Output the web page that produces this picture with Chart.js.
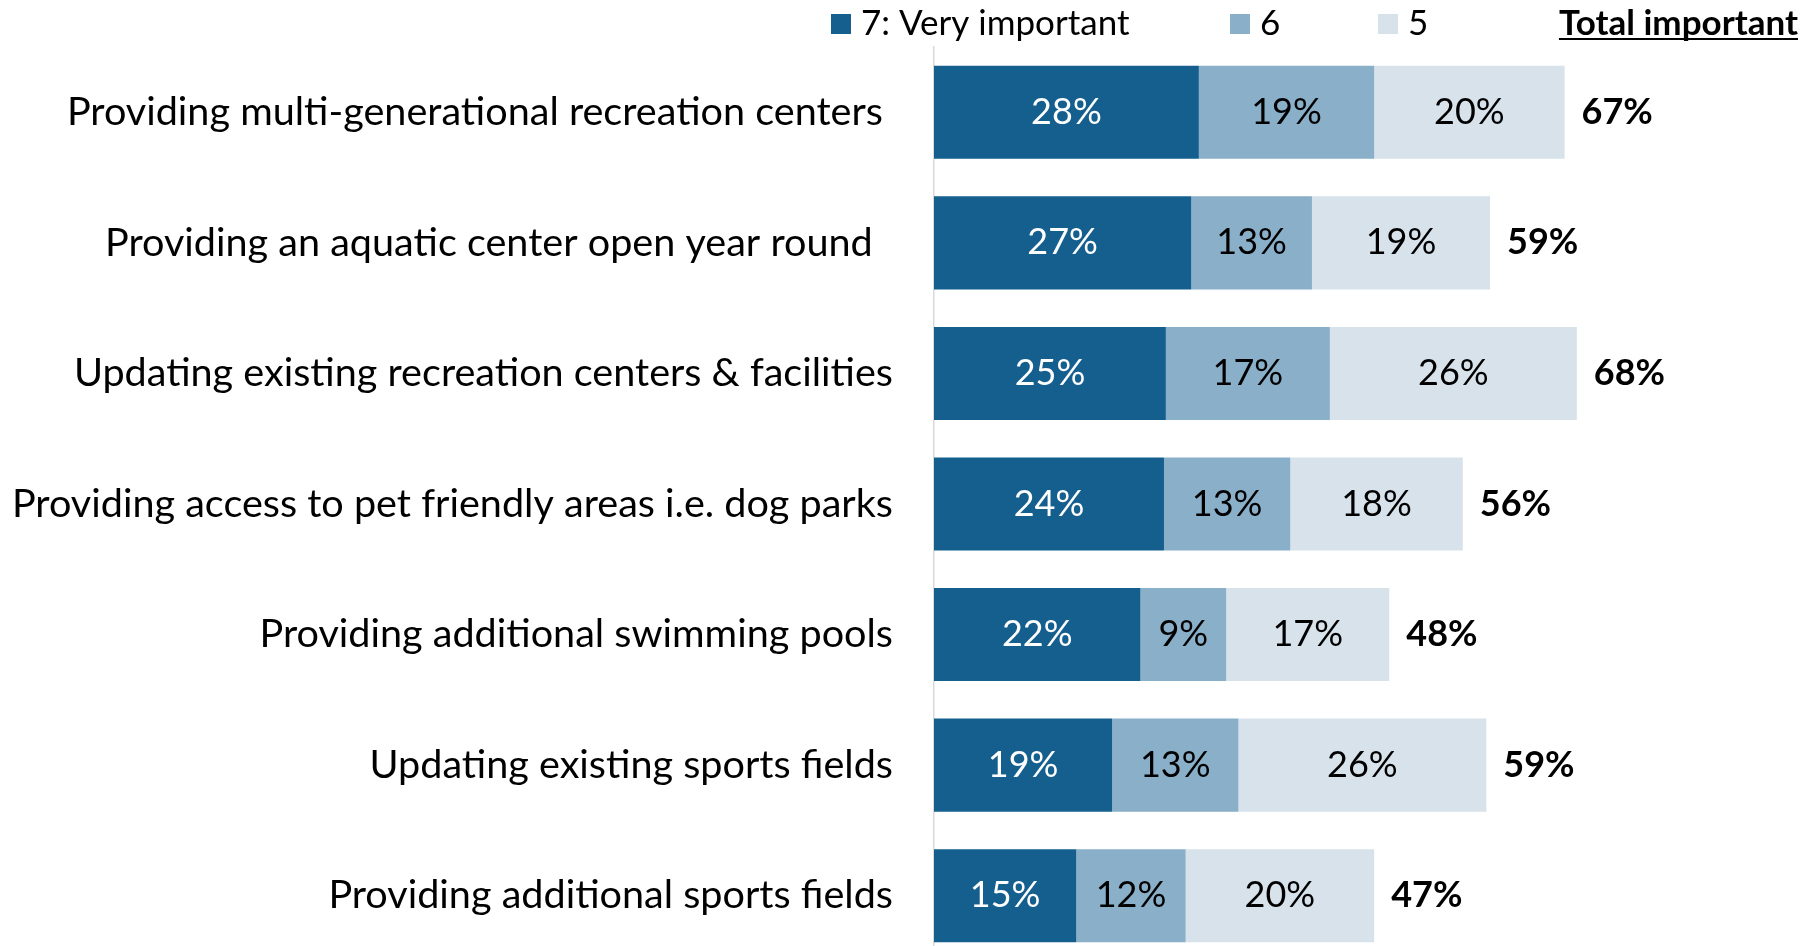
<!DOCTYPE html>
<html>
<head>
<meta charset="utf-8">
<script src="https://cdn.jsdelivr.net/npm/chart.js@4.4.1/dist/chart.umd.min.js"></script>
<style>
  html, body { margin: 0; padding: 0; background: #fff; overflow: hidden; }
  #wrap { width: 1820px; height: 961px; }
</style>
</head>
<body>
<div id="wrap"><canvas id="chart" width="1820" height="961"></canvas></div>
<script>
const categories = [
  "Providing multi-generational recreation centers ",
  "Providing an aquatic center open year round  ",
  "Updating existing recreation centers & facilities",
  "Providing access to pet friendly areas i.e. dog parks",
  "Providing additional swimming pools",
  "Updating existing sports fields",
  "Providing additional sports fields"
];
const seriesNames = ["7: Very important", "6", "5"];
const veryImportant = [28.1, 27.3, 24.6, 24.4, 21.9, 18.9, 15.1];
const six = [18.6, 12.8, 17.4, 13.4, 9.1, 13.4, 11.6];
const five = [20.2, 18.9, 26.2, 18.3, 17.3, 26.3, 20.0];
const totalImportant = [67, 59, 68, 56, 48, 59, 47];
const totalTitle = "Total important";

const seriesColors = ["#155F8F", "#89AFC9", "#D7E2EB"];
const labelColors = ["#FFFFFF", "#000000", "#000000"];
const FONT = "Lato";

// value labels inside segments + bold totals at the end of each row
const barLabels = {
  id: "barLabels",
  afterDatasetsDraw(chart) {
    const ctx = chart.ctx;
    ctx.save();
    ctx.textAlign = "center";
    ctx.textBaseline = "middle";
    ctx.font = `36px ${FONT}`;
    chart.data.datasets.forEach((ds, di) => {
      const meta = chart.getDatasetMeta(di);
      meta.data.forEach((bar, i) => {
        ctx.fillStyle = labelColors[di];
        ctx.fillText(Math.round(ds.data[i]) + "%", (bar.x + bar.base) / 2, bar.y);
      });
    });
    const last = chart.getDatasetMeta(chart.data.datasets.length - 1);
    ctx.textAlign = "left";
    ctx.font = `bold 36px ${FONT}`;
    ctx.fillStyle = "#000";
    last.data.forEach((bar, i) => ctx.fillText(totalImportant[i] + "%", bar.x + 17, bar.y));
    ctx.restore();
  }
};

// legend row at the top, with the underlined "Total important" header
const header = {
  id: "header",
  afterDraw(chart) {
    const ctx = chart.ctx;
    const xs = [831, 1230, 1378];
    ctx.save();
    ctx.textBaseline = "middle";
    ctx.font = `35px ${FONT}`;
    seriesNames.forEach((name, i) => {
      ctx.fillStyle = seriesColors[i];
      ctx.fillRect(xs[i], 14, 20, 20);
      ctx.fillStyle = "#000";
      ctx.fillText(name, xs[i] + 30, 24);
    });
    ctx.font = `bold 35px ${FONT}`;
    ctx.textAlign = "right";
    const w = ctx.measureText(totalTitle).width;
    ctx.fillText(totalTitle, 1798, 24);
    ctx.fillRect(1798 - w, 38, w, 2);
    ctx.restore();
  }
};

const values = [veryImportant, six, five];

new Chart(document.getElementById("chart"), {
  type: "bar",
  data: {
    labels: categories,
    datasets: values.map((v, i) => ({
      label: seriesNames[i],
      data: v,
      backgroundColor: seriesColors[i],
      borderWidth: 0,
      barPercentage: 0.713,
      categoryPercentage: 1
    }))
  },
  options: {
    indexAxis: "y",
    responsive: false,
    animation: false,
    layout: { padding: { top: 47, left: 0, right: 0, bottom: 0 } },
    scales: {
      x: { stacked: true, min: 0, max: 94, display: false },
      y: {
        stacked: true,
        offset: true,
        grid: { display: false, drawTicks: false },
        border: { display: true, color: "#D9D9D9", width: 1.5 },
        ticks: { padding: 41, color: "#000", autoSkip: false, font: { family: FONT, size: 39.6 } },
        afterFit: s => { s.width = 934; s.paddingTop = 0; s.paddingBottom = 0; }
      }
    },
    plugins: { legend: { display: false }, tooltip: { enabled: false } }
  },
  plugins: [barLabels, header]
});
</script>
</body>
</html>
